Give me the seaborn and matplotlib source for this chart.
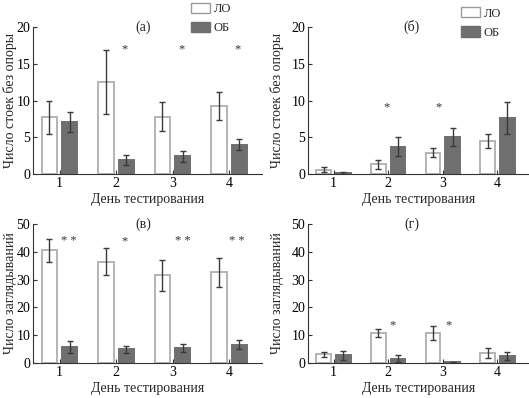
import pandas as pd
import matplotlib
matplotlib.use('Agg')
import matplotlib.pyplot as plt
import seaborn as sns
from matplotlib.patches import Patch

# Дни тестирования и группы
days = ['1', '2', '3', '4']
groups = ['ЛО', 'ОБ']

# (а) число стоек без опоры, ЛО / ОБ, среднее и ошибка
a_lo = [7.7, 12.5, 7.8, 9.3]
a_lo_err = [2.2, 4.4, 2.0, 1.9]
a_ob = [7.1, 1.9, 2.4, 4.0]
a_ob_err = [1.4, 0.65, 0.7, 0.75]

# (б)
b_lo = [0.6, 1.3, 2.9, 4.5]
b_lo_err = [0.3, 0.6, 0.6, 0.9]
b_ob = [0.1, 3.7, 5.0, 7.6]
b_ob_err = [0.15, 1.3, 1.2, 2.15]

# (в) число заглядываний
v_lo = [40.5, 36.5, 31.5, 32.6]
v_lo_err = [4.0, 5.0, 5.7, 5.3]
v_ob = [5.8, 4.9, 5.3, 6.6]
v_ob_err = [2.2, 1.2, 1.5, 1.5]

# (г)
g_lo = [3.1, 10.8, 10.8, 3.6]
g_lo_err = [0.85, 1.5, 2.5, 1.9]
g_ob = [2.7, 1.5, 0.25, 2.6]
g_ob_err = [1.5, 1.2, 0.1, 1.4]

# звездочки: (день, текст, смещение по x, высота)
a_stars = [(1, '*', 0.15, 17.0), (2, '*', 0.15, 17.0), (3, '*', 0.14, 17.0)]
b_stars = [(1, '*', -0.04, 9.1), (2, '*', -0.08, 9.1)]
v_stars = [(0, '* *', 0.16, 43.9), (1, '*', 0.15, 43.9), (2, '* *', 0.18, 43.9), (3, '* *', 0.13, 43.9)]
g_stars = [(1, '*', 0.07, 13.6), (2, '*', 0.11, 13.6)]

sns.set_style('ticks')
plt.rcParams['font.family'] = ['Liberation Serif', 'DejaVu Serif']
plt.rcParams['font.size'] = 10

W, H = 529, 398
fig = plt.figure(figsize=(W / 100, H / 100), dpi=100)

def px_axes(x0, y0, x1, y1):
    return fig.add_axes([x0 / W, 1 - y1 / H, (x1 - x0) / W, (y1 - y0) / H])

ax_a = px_axes(33, 27, 262, 174)
ax_b = px_axes(308, 27, 529, 174)
ax_v = px_axes(33, 224, 262, 363)
ax_g = px_axes(308, 224, 529, 363)

panels = [
    (ax_a, a_lo, a_lo_err, a_ob, a_ob_err, '(а)', 'Число стоек без опоры', 20, 5, a_stars),
    (ax_b, b_lo, b_lo_err, b_ob, b_ob_err, '(б)', 'Число стоек без опоры', 20, 5, b_stars),
    (ax_v, v_lo, v_lo_err, v_ob, v_ob_err, '(в)', 'Число заглядываний', 50, 10, v_stars),
    (ax_g, g_lo, g_lo_err, g_ob, g_ob_err, '(г)', 'Число заглядываний', 50, 10, g_stars),
]

for i, (ax, lo, lo_err, ob, ob_err, title, ylabel, ymax, ystep, stars) in enumerate(panels):
    df = pd.DataFrame({
        'День': days * 2,
        'Группа': [groups[0]] * 4 + [groups[1]] * 4,
        'Значение': lo + ob,
    })
    sns.barplot(data=df, x='День', y='Значение', hue='Группа', hue_order=groups,
                palette={'ЛО': 'white', 'ОБ': '#6f6f6f'}, width=0.72, gap=0.25,
                errorbar=None, legend=False, ax=ax)
    # обводка и ошибки
    for cont, err, edge in zip(ax.containers, [lo_err, ob_err], ['#b4b4b4', '#6f6f6f']):
        xs, ys = [], []
        for bar in cont:
            bar.set_edgecolor(edge)
            bar.set_linewidth(1.4)
            xs.append(bar.get_x() + bar.get_width() / 2)
            ys.append(bar.get_height())
        ax.errorbar(xs, ys, yerr=err, fmt='none', ecolor='#3a3a3a',
                    elinewidth=1.0, capsize=2.5, capthick=1.0)

    for day, txt, dx, yy in stars:
        ax.text(day + dx, yy, txt, ha='center', va='center', fontsize=9, color='#333333')

    ax.set_xlim(-0.47, 3.58)
    ax.set_ylim(0, ymax)
    ax.set_yticks(range(0, ymax + 1, ystep))
    ax.tick_params(direction='in', length=3, width=0.8, colors='#333333', labelcolor='black',
                   labelsize=10, pad=2)
    sns.despine(ax=ax)
    for s in ['left', 'bottom']:
        ax.spines[s].set_color('#333333')
        ax.spines[s].set_linewidth(0.8)
    ax.set_xlabel('День тестирования', fontsize=10, labelpad=2)
    ax.set_ylabel(ylabel, fontsize=10)
    if i % 2 == 0:
        ax.yaxis.set_label_coords(-0.068, 0.5)
    else:
        ax.yaxis.set_label_coords(-0.11, 0.5)
    ax.text(0.48 if i % 2 == 0 else 0.47, 1.0, title, transform=ax.transAxes,
            ha='center', va='center', fontsize=10)

# легенды в верхних панелях
handles = [Patch(facecolor='white', edgecolor='#9a9a9a', linewidth=1.0, label='ЛО'),
           Patch(facecolor='#6f6f6f', edgecolor='#6f6f6f', linewidth=1.0, label='ОБ')]
for ax, bx, by in [(ax_a, 0.67, 1.2), (ax_b, 0.67, 1.17)]:
    ax.legend(handles=handles, loc='upper left', bbox_to_anchor=(bx, by), frameon=False,
              fontsize=9, handlelength=1.5, handleheight=0.9, handletextpad=0.3,
              labelspacing=0.55, borderaxespad=0)

fig.savefig('out.png', dpi=100)
